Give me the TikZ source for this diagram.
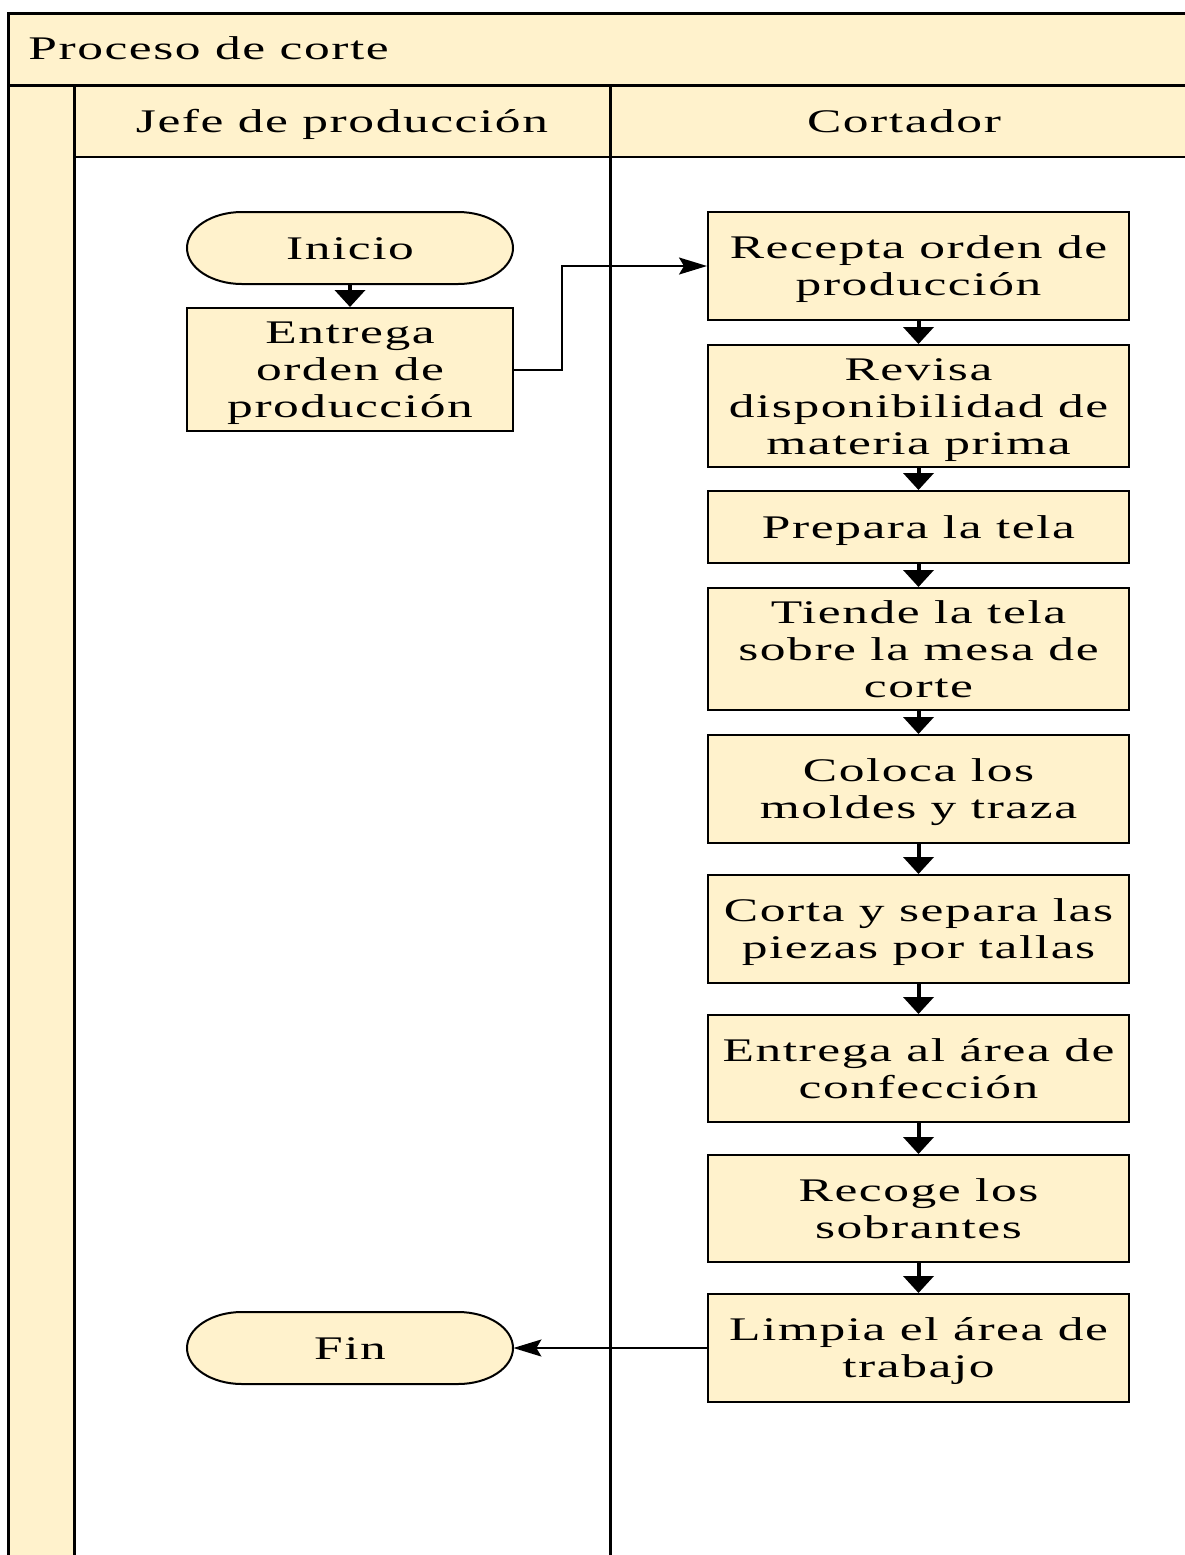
\documentclass[tikz,border=0pt]{standalone}
\usepackage{fontspec}
\setmainfont{Liberation Serif}[FakeStretch=1.56,LetterSpace=4.7]
\usetikzlibrary{arrows.meta}
\definecolor{cream}{HTML}{FFF2CC}
\newcommand\vstrut{\rule[-3.6pt]{0pt}{18.2pt}}
\tikzset{
  txt/.style={font=\fontsize{16.5}{18.5}\selectfont, inner sep=0pt, align=center,
    execute at begin node=\vstrut, execute at end node=\vstrut},
  proc/.style={txt, draw, fill=cream, line width=1pt, minimum width=210.5pt},
  term/.style={txt, minimum width=163pt, minimum height=36pt},
  flow/.style={line width=2pt, -{Triangle[length=8.5pt,width=15pt]}},
  link/.style={line width=1pt, -{Stealth[length=14pt,width=8.5pt,inset=2.5pt]}},
  lane/.style={line width=1.5pt},
}
\newcommand\stadium[2]{\draw[fill=cream,line width=1pt] (#1-108,#2-36) -- (#1+108,#2-36) arc[start angle=-90,end angle=90,x radius=55,y radius=36] -- (#1-108,#2+36) arc[start angle=90,end angle=270,x radius=55,y radius=36] -- cycle;}
\begin{document}
\begin{tikzpicture}[x=0.5pt,y=-0.5pt]
\useasboundingbox (0,0) rectangle (1185,1555);
% backgrounds
\fill[cream] (8,13) rectangle (1185,85);
\fill[cream] (74,85) rectangle (1185,157);
\fill[cream] (8,85) rectangle (74,1555);
% frame lines
\draw[lane] (1185,13) -- (8,13) -- (8,1555);
\draw[lane] (8,85) -- (1185,85);
\draw[line width=1pt] (74,157) -- (1185,157);
\draw[lane] (74,85) -- (74,1555);
\draw[lane] (610,85) -- (610,1555);
% headers
\node[txt, anchor=west] (title) at (28,48) {Proceso de corte};
\node[txt] (h1) at (342,121) {Jefe de producción};
\node[txt] (h2) at (904,121) {Cortador};
% left lane
\stadium{350}{248}
\node[term] (ini) at (350,248) {Inicio};
\node[proc, minimum width=163pt, minimum height=61.5pt] (ent) at (350,369.5) {\vstrut Entrega\\orden de\\producción\vstrut};
\stadium{350}{1348}
\node[term] (fin) at (350,1348) {Fin};
% right lane
\node[proc, minimum height=54pt] (rec) at (918.5,266) {\vstrut Recepta orden de\\producción\vstrut};
\node[proc, minimum height=61pt] (rev) at (918.5,406) {\vstrut Revisa\\disponibilidad de\\materia prima\vstrut};
\node[proc, minimum height=36pt] (pre) at (918.5,527) {Prepara la tela};
\node[proc, minimum height=61pt] (tie) at (918.5,649) {\vstrut Tiende la tela\\sobre la mesa de\\corte\vstrut};
\node[proc, minimum height=54pt] (col) at (918.5,789) {\vstrut Coloca los\\moldes y traza\vstrut};
\node[proc, minimum height=54pt] (cor) at (918.5,929) {\vstrut Corta y separa las\\piezas por tallas\vstrut};
\node[proc, minimum height=53.5pt] (eaa) at (918.5,1068.5) {\vstrut Entrega al área de\\confección\vstrut};
\node[proc, minimum height=53.5pt] (reg) at (918.5,1208.5) {\vstrut Recoge los\\sobrantes\vstrut};
\node[proc, minimum height=54pt] (lim) at (918.5,1348) {\vstrut Limpia el área de\\trabajo\vstrut};
% connectors
\draw[flow] (ini) -- (ent);
\coordinate (bend) at (562,266);
\draw[link] (ent.east) -| (bend) -- (rec.west);
\draw[flow] (rec) -- (rev);
\draw[flow] (rev) -- (pre);
\draw[flow] (pre) -- (tie);
\draw[flow] (tie) -- (col);
\draw[flow] (col) -- (cor);
\draw[flow] (cor) -- (eaa);
\draw[flow] (eaa) -- (reg);
\draw[flow] (reg) -- (lim);
\draw[link] (lim.west) -- (fin.east);
\end{tikzpicture}
\end{document}
